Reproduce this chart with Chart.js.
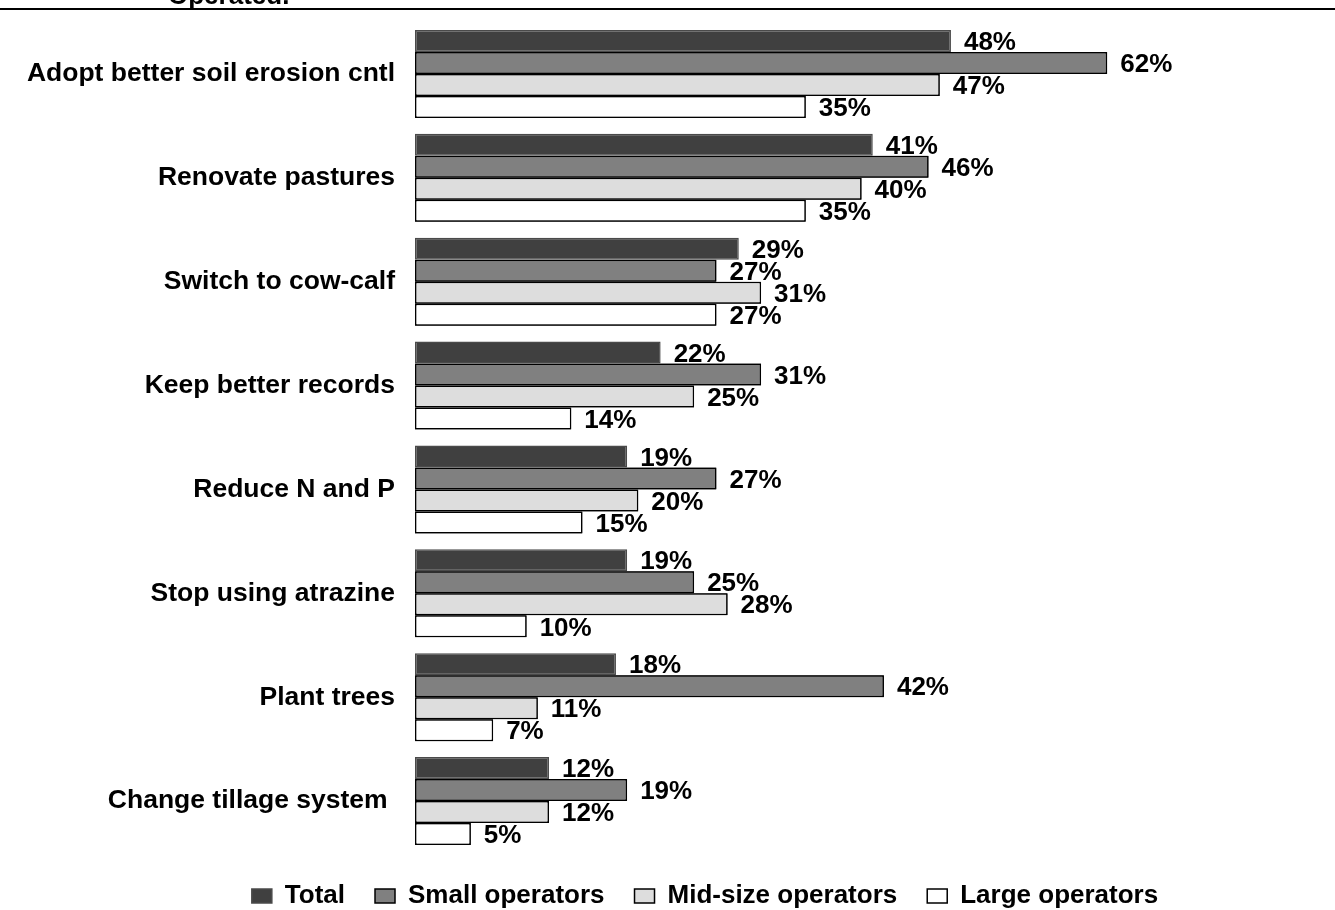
<!DOCTYPE html>
<html>
<head>
<meta charset="utf-8">
<script src="https://cdn.jsdelivr.net/npm/chart.js@4/dist/chart.umd.min.js"></script>
<style>
  html, body { margin: 0; padding: 0; background: #fff; }
  #wrap { width: 1335px; height: 910px; }
</style>
</head>
<body>
<div id="wrap"><canvas id="barChart" width="1335" height="910"></canvas></div>
<script>
// practices, top to bottom
var categories = ['Adopt better soil erosion cntl', 'Renovate pastures', 'Switch to cow-calf',
	'Keep better records', 'Reduce N and P', 'Stop using atrazine', 'Plant trees', 'Change tillage system '];

// percent of operators in each group
var totalValues = [48, 41, 29, 22, 19, 19, 18, 12];
var smallValues = [62, 46, 27, 31, 27, 25, 42, 19];
var midValues = [47, 40, 31, 25, 20, 28, 11, 12];
var largeValues = [35, 35, 27, 14, 15, 10, 7, 5];

var seriesNames = ['Total', 'Small operators', 'Mid-size operators', 'Large operators'];

var FONT = 'Arial, "Liberation Sans", Helvetica, sans-serif';

// heading (cut off at the top edge) and the rule under it
var headerPlugin = {
	id: 'header',
	afterDraw: function(chart) {
		var ctx = chart.ctx;
		ctx.save();
		ctx.fillStyle = '#000';
		ctx.font = 'bold 26px ' + FONT;
		ctx.textAlign = 'left';
		ctx.textBaseline = 'alphabetic';
		ctx.fillText('Operated.', 168, 4);
		ctx.strokeStyle = '#000';
		ctx.lineWidth = 2;
		ctx.beginPath();
		ctx.moveTo(0, 9);
		ctx.lineTo(chart.width, 9);
		ctx.stroke();
		ctx.restore();
	}
};

// percent labels; each set is covered by the bars of the next set, so redraw those bars on top
var valueLabels = {
	id: 'valueLabels',
	afterDatasetsDraw: function(chart) {
		var ctx = chart.ctx;
		var n = chart.data.datasets.length;
		for (var i = 0; i < n; i++) {
			var meta = chart.getDatasetMeta(i);
			if (i > 0) {
				meta.data.forEach(function(bar) { bar.draw(ctx, chart.chartArea); });
			}
			var values = chart.data.datasets[i].data;
			ctx.save();
			ctx.fillStyle = '#000';
			ctx.font = 'bold 26px ' + FONT;
			ctx.textAlign = 'left';
			ctx.textBaseline = 'middle';
			meta.data.forEach(function(bar, j) {
				ctx.fillText(values[j] + '%', bar.x + 13, bar.y + 2);
			});
			ctx.restore();
		}
	}
};

var ctx = document.getElementById('barChart').getContext('2d');
var barChart = new Chart(ctx, {
	type: 'bar',
	data: {
		labels: categories,
		datasets: [{
				label: seriesNames[0],
				data: totalValues,
				backgroundColor: '#404040',
				borderColor: '#4a4a4a',
				borderWidth: 1.5
			},
			{
				label: seriesNames[1],
				data: smallValues,
				backgroundColor: '#808080',
				borderColor: '#000',
				borderWidth: 1.5
			},
			{
				label: seriesNames[2],
				data: midValues,
				backgroundColor: '#dddddd',
				borderColor: '#000',
				borderWidth: 1.5
			},
			{
				label: seriesNames[3],
				data: largeValues,
				backgroundColor: '#ffffff',
				borderColor: '#000',
				borderWidth: 1.5
			}
		]
	},
	options: {
		indexAxis: 'y',
		responsive: false,
		animation: false,
		maintainAspectRatio: false,
		categoryPercentage: 0.848,
		barPercentage: 1,
		borderSkipped: false,
		layout: {
			// negative right padding nudges the legend row right of centre
			padding: { top: 22, left: 0, right: -75, bottom: -9 }
		},
		scales: {
			x: {
				min: 0,
				max: 82.4,
				display: true,
				ticks: { display: false },
				grid: { display: false, drawTicks: false },
				border: { display: false },
				afterFit: function(scale) { scale.height = 0; }
			},
			y: {
				grid: { display: false, drawTicks: false },
				border: { display: false },
				ticks: {
					color: '#000',
					padding: 20,
					font: { family: FONT, size: 26.5, weight: 'bold' }
				},
				afterFit: function(scale) {
					scale.width = 415;
					scale.paddingTop = 0;
					scale.paddingBottom = 0;
				}
			}
		},
		plugins: {
			legend: {
				position: 'bottom',
				labels: {
					color: '#000',
					boxWidth: 20,
					boxHeight: 14,
					padding: 30,
					font: { family: FONT, size: 26, weight: 'bold' }
				}
			},
			tooltip: { enabled: false }
		}
	},
	plugins: [headerPlugin, valueLabels]
});
</script>
</body>
</html>
